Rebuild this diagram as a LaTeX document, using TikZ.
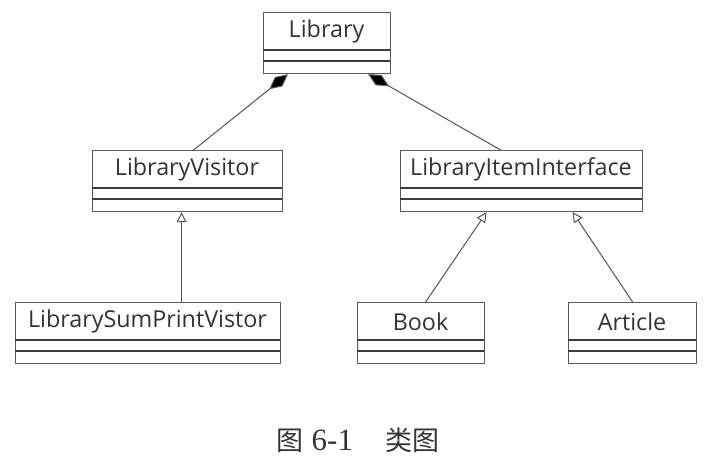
\documentclass[tikz,border=0pt]{standalone}
\usepackage{fontspec}
\setmainfont{Open Sans}
\newfontfamily\cjkfont{Noto Sans CJK SC}
\newfontfamily\capserif{Liberation Serif}
\usetikzlibrary{arrows.meta,calc}
\definecolor{boxc}{HTML}{5A5A5A}
\definecolor{divc}{HTML}{3C3C3C}
\definecolor{txtc}{HTML}{333333}
\definecolor{linec}{HTML}{555555}
\newcommand\umlclass[6]{%
  \node[clsbox, minimum width={(#4-#2)*1pt}, minimum height={(#5-#3)*1pt}] (#1) at (#2,#3) {};
  \draw[divline] (#2,{#3+38}) -- (#4,{#3+38});
  \draw[divline] (#2,{#3+49}) -- (#4,{#3+49});
  \node[clstext] (#1-t) at ({(#2+#4)/2},{#3+19.5}) {#6};
}
\begin{document}
\begin{tikzpicture}[x=1pt,y=-1pt,
  clsbox/.style={draw=boxc, line width=1.2pt, inner sep=0pt, anchor=north west},
  divline/.style={draw=divc, line width=1.5pt},
  clstext/.style={text=txtc, font=\fontsize{23.3}{27}\selectfont, inner sep=0pt},
  comp/.style={draw=linec, line width=1pt, -{Diamond[length=24pt,width=12pt,fill=black]}},
  inh/.style={draw=linec, line width=1pt, -{Triangle[open,length=10pt,width=10pt,fill=white]}}]
\useasboundingbox[fill=white] (0,0) rectangle (716,473);
\umlclass{lib}{263}{12}{390}{73}{Library}
\umlclass{lv}{92}{150}{282}{211}{LibraryVisitor}
\umlclass{lii}{400}{150}{642}{211}{LibraryItemInterface}
\umlclass{lspv}{15}{302}{280}{363}{LibrarySumPrintVistor}
\umlclass{book}{357}{302}{484}{363}{Book}
\umlclass{art}{568}{302}{696}{363}{Article}
\draw[comp] ([xshift=6pt]lv.north) -- ([xshift=25pt]lib.south west);
\draw[comp] ([xshift=-21pt]lii.north) -- ([xshift=-23pt]lib.south east);
\draw[inh] ([xshift=33.5pt]lspv.north) -- ([xshift=-6pt]lv.south);
\draw[inh] ([xshift=4.5pt]book.north) -- ([xshift=-35pt]lii.south);
\draw[inh] ([xshift=0pt]art.north) -- ([xshift=51pt]lii.south);
\node[text=txtc, font=\fontsize{27}{32}\selectfont, inner sep=0pt] (cap) at (358,440)
  {\cjkfont 图\hspace{0.3em}{\capserif\fontsize{31}{34}\selectfont 6-1}\hspace{1.2em}类图};
\end{tikzpicture}
\end{document}
